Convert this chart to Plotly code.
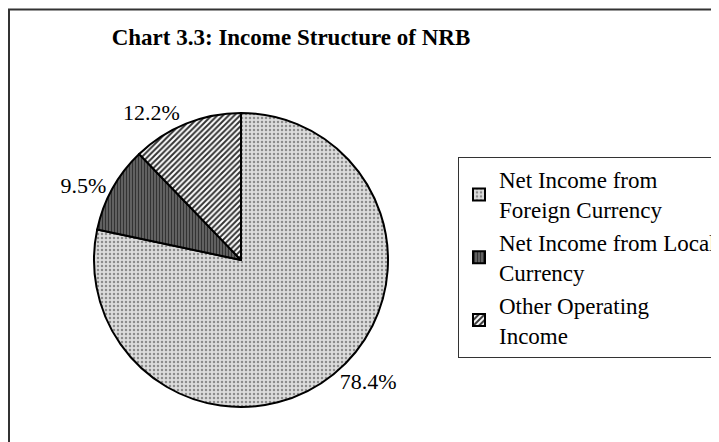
import plotly.graph_objects as go

categories = ["Net Income from<br>Foreign Currency",
              "Net Income from Local<br>Currency",
              "Other Operating<br>Income"]
shares = [78.4, 9.5, 12.2]
pct_labels = ["78.4%", "9.5%", "12.2%"]

W, H = 719, 442
# the page body has an 8px margin, so figure coords = reference coords - 8
cx, cy, r = 233, 252, 147

fig = go.Figure(go.Pie(
    labels=categories,
    values=shares,
    text=pct_labels,
    textinfo="text",
    textposition="outside",
    sort=False,
    direction="clockwise",
    rotation=0,
    hole=0,
    marker=dict(
        colors=["#d0d0d0", "#5a5a5a", "#b0b0b0"],
        line=dict(color="black", width=2),
        pattern=dict(
            shape=[".", "|", "/"],
            bgcolor=["#dcdcdc", "#666666", "#ffffff"],
            fgcolor=["#8c8c8c", "#333333", "#333333"],
            size=[4, 3, 4],
            solidity=[0.3, 0.4, 0.5],
            fillmode="replace",
        ),
    ),
    textfont=dict(family="Liberation Serif", size=22, color="black"),
    domain=dict(x=[(cx - r) / W, (cx + r) / W],
                y=[(H - cy - r) / H, (H - cy + r) / H]),
    automargin=False,
))

fig.update_layout(
    width=W, height=H,
    margin=dict(l=0, r=0, t=0, b=0),
    paper_bgcolor="white",
    plot_bgcolor="white",
    font=dict(family="Liberation Serif", color="black"),
    title=dict(text="<b>Chart 3.3: Income Structure of NRB</b>",
               font=dict(family="Liberation Serif", size=23, color="black"),
               x=283 / W, xanchor="center", y=(H - 29) / H, yanchor="middle"),
    legend=dict(
        x=450 / W, y=(H - 149) / H, xanchor="left", yanchor="top",
        bordercolor="#333333", borderwidth=1, bgcolor="white",
        font=dict(family="Liberation Serif", size=23, color="black"),
    ),
    shapes=[dict(type="rect", xref="paper", yref="paper",
                 x0=1 / W, x1=1.2, y0=-0.2, y1=(H - 1.5) / H,
                 line=dict(color="#333333", width=2), fillcolor="rgba(0,0,0,0)",
                 layer="below")],
)

fig.write_html("out.html")
